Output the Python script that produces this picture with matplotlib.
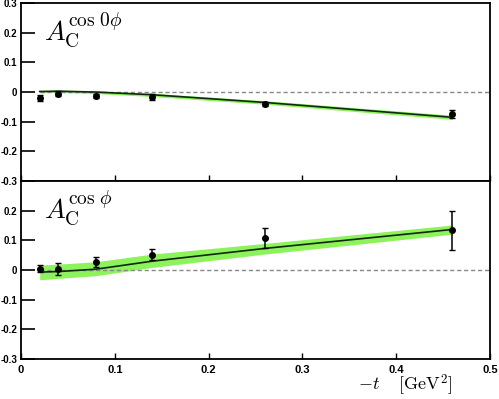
import matplotlib
matplotlib.use("Agg")
import matplotlib.pyplot as plt
import numpy as np

plt.rcParams['mathtext.fontset'] = 'cm'
plt.rcParams['axes.unicode_minus'] = False

# measured points (-t in GeV^2)
t_pts = [0.02, 0.04, 0.08, 0.14, 0.26, 0.46]
a0_vals = [-0.020, -0.006, -0.013, -0.017, -0.040, -0.073]
a0_errs = [0.010, 0.008, 0.008, 0.010, 0.008, 0.014]
a1_vals = [0.005, 0.005, 0.028, 0.052, 0.107, 0.134]
a1_errs = [0.012, 0.020, 0.017, 0.018, 0.034, 0.066]

# model curve and its band
t_curve = [0.02, 0.04, 0.08, 0.14, 0.26, 0.46]
a0_curve = [0.002, 0.003, 0.000, -0.009, -0.035, -0.085]
a0_lo = [-0.002, -0.001, -0.005, -0.015, -0.041, -0.092]
a0_hi = [0.005, 0.006, 0.004, -0.004, -0.029, -0.078]
a1_curve = [-0.007, -0.005, 0.003, 0.030, 0.073, 0.137]
a1_lo = [-0.033, -0.028, -0.019, 0.009, 0.054, 0.121]
a1_hi = [0.017, 0.020, 0.028, 0.054, 0.090, 0.152]

labels = [r'$A_{\mathrm{C}}^{\cos\,0\phi}$', r'$A_{\mathrm{C}}^{\cos\,\phi}$']
ytick_labels = ['-0.3', '-0.2', '-0.1', '0', '0.1', '0.2', '0.3']
xtick_labels = ['0', '0.1', '0.2', '0.3', '0.4', '0.5']

fig = plt.figure(figsize=(4.99, 3.99), dpi=100)
ax_top = fig.add_axes([0.042, 0.546, 0.940, 0.4465])
ax_bot = fig.add_axes([0.042, 0.1003, 0.940, 0.4457])

panels = [
    (ax_top, a0_vals, a0_errs, a0_curve, a0_lo, a0_hi, labels[0]),
    (ax_bot, a1_vals, a1_errs, a1_curve, a1_lo, a1_hi, labels[1]),
]

tick_font = dict(family='Liberation Sans', weight='bold', size=7)

for i, (ax, vals, errs, curve, lo, hi, lab) in enumerate(panels):
    ax.fill_between(t_curve, lo, hi, color='#8ef25c', lw=0, zorder=1)
    ax.plot([0.02, 0.5], [0, 0], ls=(0, (3, 2)), color='#888888', lw=1, zorder=2)
    ax.plot(t_curve, curve, color='#0d2a0d', lw=1.2, zorder=3)
    ax.errorbar(t_pts, vals, yerr=errs, fmt='o', color='black', ms=4,
                elinewidth=1.1, capsize=2, capthick=1, zorder=4)
    ax.set_xlim(0, 0.5)
    ax.set_ylim(-0.3, 0.3)
    ax.set_xticks([0, 0.1, 0.2, 0.3, 0.4, 0.5])
    ax.set_yticks([-0.3, -0.2, -0.1, 0, 0.1, 0.2, 0.3])
    ax.tick_params(axis='y', direction='in', length=10, width=1.2, pad=2.5)
    ax.tick_params(axis='x', direction='in', length=4, width=1, pad=4)
    for s in ax.spines.values():
        s.set_linewidth(1.3)
    ax.text(0.05, 0.96, lab, transform=ax.transAxes, ha='left', va='top',
            fontsize=20)
    ylabs = list(ytick_labels)
    if i == 1:
        ylabs[-1] = ''
    ax.set_yticklabels(ylabs, fontdict=tick_font)
    if i == 0:
        ax.set_xticklabels([])
    else:
        ax.set_xticklabels(xtick_labels, fontdict=dict(tick_font, size=8))

fig.text(0.812, 0.033, r'$-t\quad\;[\mathrm{GeV}^2]$', ha='center', va='center',
         fontsize=13)

fig.savefig('out.png', dpi=100)
